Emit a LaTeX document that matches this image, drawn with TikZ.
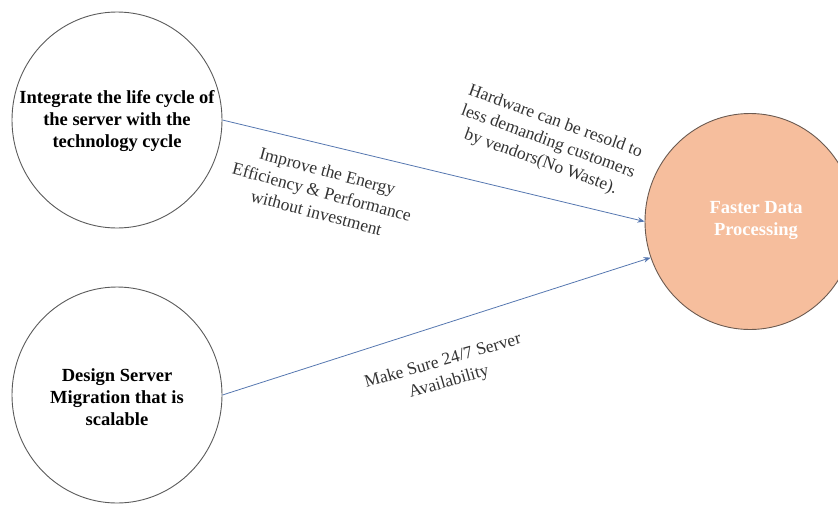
\documentclass[tikz,border=0pt]{standalone}
\usepackage{fontspec}
\setmainfont{Liberation Serif}
\usetikzlibrary{shapes.geometric,arrows.meta}
\definecolor{peach}{HTML}{F6BE9D}
\definecolor{flowblue}{HTML}{5677B0}
\definecolor{rimgray}{HTML}{5A5A5A}
\definecolor{rimbrown}{HTML}{6B5A50}

\begin{document}
\begin{tikzpicture}[x=1pt,y=-1pt,
		goal/.style={ellipse,draw=rimgray,line width=0.9pt,minimum width=210pt,minimum height=216pt},
		goaltext/.style={align=center,font=\fontsize{18.5}{22}\selectfont\bfseries},
		note/.style={align=center,text=black!80,font=\fontsize{17.5}{21.5}\selectfont},
		flow/.style={draw=flowblue,line width=0.8pt,-{Stealth[length=7pt,width=5.5pt]}}]
		\useasboundingbox (0,0) rectangle (838,504);
		
		\node[goal] (lifecycle) at (117,120) {};
		\node[goaltext] (lifecycletext) at (117,121) {Integrate the life cycle of\\the server with the\\technology cycle};
		\node[goal] (migration) at (117,395) {};
		\node[goaltext] (migrationtext) at (117,397) {Design Server\\Migration that is\\scalable};
		\node[goal,fill=peach,draw=rimbrown] (faster) at (750,221.5) {};
		\node[goaltext,text=white] (fastertext) at (756,220) {Faster Data\\Processing};
		
		\node[note,rotate=-15] (energy) at (322,192) {Improve the Energy\\Efficiency \& Performance\\without investment};
		\node[note,rotate=-20] (resold) at (548,142) {Hardware can be resold to\\less demanding customers\\by vendors(No Waste).};
		\node[note,rotate=16] (avail) at (446,372) {Make Sure 24/7 Server\\Availability};
		
		\draw[flow] (lifecycle.east) -- (faster.west);
		\draw[flow] (migration.east) -- (faster.200);
		\end{tikzpicture}
\end{document}
